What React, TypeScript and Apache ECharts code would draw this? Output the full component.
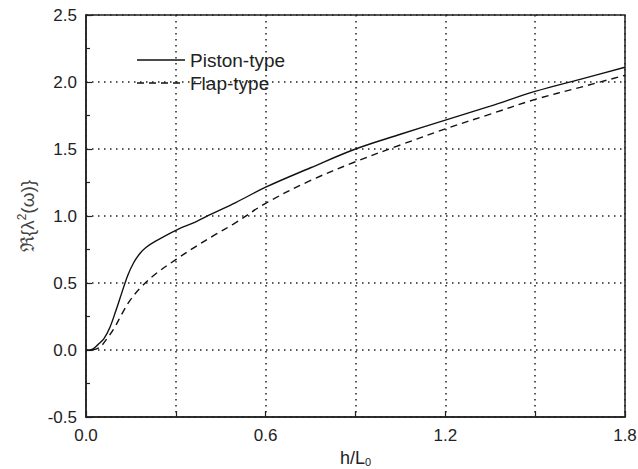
import React, { useEffect, useRef } from "react";
import * as echarts from "echarts";

const pistonX = [0, 0.02, 0.04, 0.06, 0.08, 0.1, 0.12, 0.14, 0.16, 0.18, 0.2, 0.231, 0.3, 0.365, 0.42, 0.5, 0.6, 0.75, 0.9, 1.05, 1.2, 1.35, 1.5, 1.65, 1.8];
const pistonY = [0, 0.005, 0.04, 0.085, 0.17, 0.295, 0.43, 0.56, 0.655, 0.72, 0.765, 0.81, 0.893, 0.955, 1.015, 1.1, 1.215, 1.36, 1.5, 1.61, 1.715, 1.82, 1.93, 2.02, 2.11];
const flapX = [0.02, 0.046, 0.07, 0.096, 0.12, 0.147, 0.18, 0.231, 0.3, 0.365, 0.427, 0.5, 0.6, 0.75, 0.9, 1.05, 1.2, 1.35, 1.5, 1.65, 1.8];
const flapY = [0, 0.02, 0.085, 0.17, 0.27, 0.37, 0.46, 0.565, 0.675, 0.77, 0.855, 0.95, 1.095, 1.265, 1.405, 1.53, 1.65, 1.76, 1.87, 1.96, 2.05];
const seriesNames = ["Piston-type", "Flap-type"];
const xTickLabels = ["0.0", "0.6", "1.2", "1.8"];

const FONT = "'Liberation Sans', Arial, sans-serif";
const INK = "#222";

export default function App() {
  const ref = useRef<HTMLDivElement>(null);
  useEffect(() => {
    if (!ref.current) return;
    const chart = echarts.init(ref.current, null, { renderer: "svg" });
    const toPairs = (xs: number[], ys: number[]) => xs.map((x, i) => [x, ys[i]]);
    const legendGraphic = {
      type: "group",
      left: 130,
      top: 41,
      children: [
        { type: "rect", shape: { x: 0, y: 0, width: 170, height: 58 }, style: { fill: "#fff" } },
        { type: "line", shape: { x1: 7, y1: 19, x2: 55, y2: 19 }, style: { stroke: "#111", lineWidth: 1.4 } },
        { type: "line", shape: { x1: 7, y1: 42, x2: 55, y2: 42 }, style: { stroke: "#111", lineWidth: 1.4, lineDash: [7, 5] } },
        {
          type: "text",
          x: 60,
          y: 19,
          style: { text: seriesNames[0], font: `19px ${FONT}`, fill: INK, verticalAlign: "middle" },
        },
        {
          type: "text",
          x: 60,
          y: 42,
          style: { text: seriesNames[1], font: `19px ${FONT}`, fill: INK, verticalAlign: "middle" },
        },
      ],
    };
    chart.setOption({
      animation: false,
      backgroundColor: "#fff",
      grid: {
        left: 86,
        right: 13,
        top: 15,
        bottom: 52,
        outerBoundsMode: "none",
        containLabel: false,
        show: true,
        borderColor: INK,
        borderWidth: 1.5,
        backgroundColor: "transparent",
      },
      graphic: [legendGraphic],
      xAxis: {
        type: "value",
        min: 0,
        max: 1.8,
        interval: 0.3,
        name: "h/L{sub|0}",
        nameLocation: "middle",
        nameGap: 28,
        nameTextStyle: {
          fontFamily: FONT,
          fontSize: 18,
          color: INK,
          rich: { sub: { fontFamily: FONT, fontSize: 11, color: INK, verticalAlign: "bottom", padding: [9, 0, 0, 0] } },
        },
        axisLine: { show: true, onZero: false, lineStyle: { color: INK, width: 1.5 } },
        axisTick: { show: true, inside: true, length: 6, lineStyle: { color: INK, width: 1.2 } },
        axisLabel: {
          margin: 10,
          fontFamily: FONT,
          fontSize: 17,
          color: INK,
          formatter: (v: number) => {
            const s = v.toFixed(1);
            return xTickLabels.includes(s) ? s : "";
          },
        },
        splitLine: { show: true, lineStyle: { color: INK, width: 1.5, type: [1.5, 4.5] } },
      },
      yAxis: {
        type: "value",
        min: -0.5,
        max: 2.5,
        interval: 0.5,
        name: "ℜ{λ{sup|2}(ω)}",
        nameLocation: "middle",
        nameGap: 48,
        nameRotate: 90,
        nameTextStyle: {
          fontFamily: FONT,
          fontSize: 19,
          color: "#444",
          rich: { sup: { fontFamily: FONT, fontSize: 12, color: "#444", verticalAlign: "top", padding: [0, 0, 10, 0] } },
        },
        axisLine: { show: true, onZero: false, lineStyle: { color: INK, width: 1.5 } },
        axisTick: { show: true, inside: true, length: 6, lineStyle: { color: INK, width: 1.2 } },
        minorTick: { show: true, splitNumber: 2, length: 4, lineStyle: { color: INK, width: 1.2 } },
        axisLabel: {
          margin: 9,
          fontFamily: FONT,
          fontSize: 17,
          color: INK,
          formatter: (v: number) => v.toFixed(1),
        },
        splitLine: { show: true, lineStyle: { color: INK, width: 1.5, type: [1.5, 4.5] } },
      },
      series: [
        {
          name: seriesNames[0],
          type: "line",
          data: toPairs(pistonX, pistonY),
          smooth: 0.35,
          showSymbol: false,
          symbol: "none",
          lineStyle: { color: "#111", width: 1.4, type: "solid" },
          z: 3,
        },
        {
          name: seriesNames[1],
          type: "line",
          data: toPairs(flapX, flapY),
          smooth: 0.35,
          showSymbol: false,
          symbol: "none",
          lineStyle: { color: "#111", width: 1.4, type: [7, 5] },
          z: 3,
        },
      ],
    });
    return () => chart.dispose();
  }, []);
  return (
    <div
      ref={ref}
      style={{ position: "fixed", left: 0, top: 0, width: 638, height: 469, background: "#fff" }}
    />
  );
}
